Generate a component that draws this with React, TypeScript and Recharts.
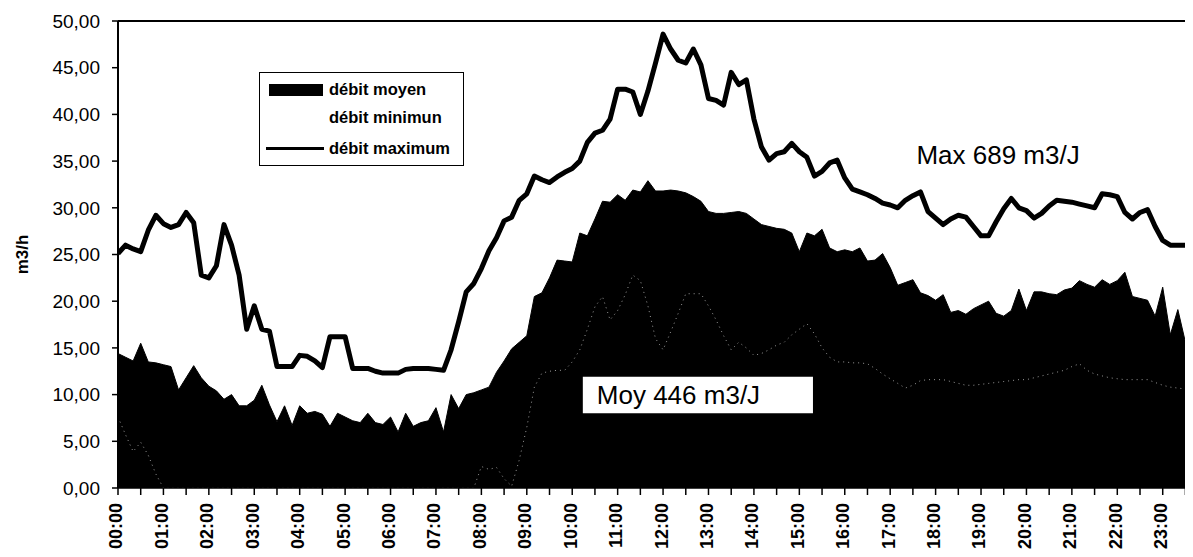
import React from "react";
import {
  ComposedChart,
  Area,
  Line,
  XAxis,
  YAxis,
  Legend,
  ReferenceLine,
  ReferenceArea,
} from "recharts";

// 10-minute samples from 00:00 to 23:40 (m3/h)
const maxFlow = [
  25.1, 26.0, 25.6, 25.3, 27.6, 29.2, 28.3, 27.9, 28.2, 29.5,
  28.4, 22.8, 22.5, 23.8, 28.2, 26.0, 22.8, 17.0, 19.5, 17.0,
  16.8, 13.0, 13.0, 13.0, 14.2, 14.1, 13.6, 12.9, 16.2, 16.2,
  16.2, 12.8, 12.8, 12.8, 12.5, 12.3, 12.3, 12.3, 12.7, 12.8,
  12.8, 12.8, 12.7, 12.6, 14.8, 17.8, 21.0, 21.9, 23.5, 25.4,
  26.8, 28.6, 29.0, 30.8, 31.5, 33.4, 33.0, 32.7, 33.3, 33.8,
  34.2, 35.0, 37.0, 38.0, 38.3, 39.5, 42.7, 42.7, 42.4, 40.0,
  42.5, 45.5, 48.6, 47.0, 45.8, 45.5, 47.0, 45.3, 41.7, 41.5,
  41.0, 44.5, 43.2, 43.7, 39.5, 36.5, 35.1, 35.8, 36.0, 36.9,
  36.0, 35.4, 33.4, 33.9, 34.8, 35.1, 33.2, 32.0, 31.7, 31.4,
  31.0, 30.5, 30.3, 30.0, 30.8, 31.3, 31.7, 29.6, 28.9, 28.2,
  28.8, 29.2, 29.0, 28.0, 27.0, 27.0, 28.5, 29.9, 31.0, 30.0,
  29.7, 28.9, 29.4, 30.2, 30.8, 30.7, 30.6, 30.4, 30.2, 30.0,
  31.5, 31.4, 31.2, 29.5, 28.8, 29.5, 29.8, 28.0, 26.5, 26.0,
  26.0, 26.0, 26.0,
];

const meanFlow = [
  14.4, 14.0, 13.6, 15.5, 13.5, 13.4, 13.2, 13.0, 10.5, 11.8,
  13.1, 11.8, 10.9, 10.4, 9.5, 10.0, 8.8, 8.8, 9.4, 11.0,
  8.9, 7.1, 8.8, 6.7, 8.8, 8.0, 8.2, 7.9, 6.6, 8.0,
  7.6, 7.2, 7.0, 8.0, 7.0, 6.8, 7.6, 6.0, 8.0, 6.6,
  7.0, 7.2, 8.6, 6.0, 10.0, 8.5, 10.0, 10.2, 10.5, 10.8,
  12.4, 13.6, 14.9, 15.6, 16.3, 20.5, 20.9, 22.5, 24.4, 24.3,
  24.2, 27.3, 27.0, 28.8, 30.7, 30.6, 31.4, 30.8, 31.9, 31.7,
  32.9, 31.8, 31.8, 31.9, 31.8, 31.6, 31.2, 30.7, 29.6, 29.4,
  29.4, 29.5, 29.6, 29.4, 28.8, 28.2, 28.0, 27.8, 27.7, 27.3,
  25.3, 27.3, 27.0, 27.7, 25.7, 25.3, 25.5, 25.3, 25.7, 24.3,
  24.4, 25.1, 23.6, 21.7, 22.0, 22.3, 20.9, 20.6, 20.1, 20.7,
  18.8, 19.0, 18.6, 19.2, 19.6, 20.0, 18.7, 18.4, 19.0, 21.3,
  19.0, 21.0, 21.0, 20.8, 20.7, 21.2, 21.4, 22.2, 21.8, 21.5,
  22.3, 21.8, 22.2, 23.1, 20.5, 20.3, 20.1, 18.4, 21.5, 16.4,
  19.1, 15.6, 16.6,
];

const minFlow = [
  7.6, 5.7, 3.9, 4.9, 3.5, 1.5, 0, 0, 0, 0,
  0, 0, 0, 0, 0, 0, 0, 0, 0, 0,
  0, 0, 0, 0, 0, 0, 0, 0, 0, 0,
  0, 0, 0, 0, 0, 0, 0, 0, 0, 0,
  0, 0, 0, 0, 0, 0, 0, 0, 2.3, 2.0,
  2.2, 1.0, 0.2, 3.0, 6.5, 10.8, 12.3, 12.5, 12.6, 12.6,
  13.5, 14.8, 17.0, 19.4, 20.5, 18.0, 19.0, 20.7, 22.8, 22.2,
  19.5, 16.0, 14.8, 16.7, 18.7, 20.8, 20.8, 20.8, 19.5, 18.0,
  16.3, 14.8, 15.6, 15.0, 14.2, 14.4, 14.8, 15.3, 15.6, 16.4,
  17.0, 17.6, 16.5, 15.0, 14.0, 13.5, 13.5, 13.4, 13.4, 13.3,
  12.8, 12.2, 11.7, 11.2, 10.7, 11.0, 11.5, 11.6, 11.6, 11.6,
  11.4, 11.2, 11.0, 11.0, 11.1, 11.2, 11.3, 11.4, 11.5, 11.6,
  11.6, 11.8, 12.0, 12.2, 12.4, 12.6, 13.0, 13.3, 12.6, 12.2,
  12.0, 11.8, 11.7, 11.6, 11.6, 11.6, 11.6, 11.3, 11.0, 10.8,
  10.7, 10.6, 10.5,
];

const hourLabels = [
  "00:00", "01:00", "02:00", "03:00", "04:00", "05:00", "06:00", "07:00",
  "08:00", "09:00", "10:00", "11:00", "12:00", "13:00", "14:00", "15:00",
  "16:00", "17:00", "18:00", "19:00", "20:00", "21:00", "22:00", "23:00",
];

const yTicks = [0, 5, 10, 15, 20, 25, 30, 35, 40, 45, 50];

const seriesNames = ["débit moyen", "débit minimun", "débit maximum"];

const STEP_MIN = 10;
const data = meanFlow.map((v, i) => ({
  t: i * STEP_MIN,
  moyen: v,
  minimun: minFlow[i],
  maximum: maxFlow[i],
}));

const xTicks = hourLabels.flatMap((_, h) => [h * 60, h * 60 + 30]);

const FONT = "'Liberation Sans', Arial, sans-serif";

const XTick = (props: any) => {
  const { x, y, payload } = props;
  const v = payload.value as number;
  if (v % 60 !== 0) return null;
  const label = hourLabels[v / 60];
  return (
    <text
      x={x - 2}
      y={y}
      transform={`rotate(-90, ${x - 2}, ${y})`}
      textAnchor="end"
      dy="0.36em"
      fontSize={18}
      fontWeight="bold"
      fill="#000"
      fontFamily={FONT}
    >
      {label}
    </text>
  );
};

const YLabel = (props: any) => {
  const vb = props.viewBox || { x: 0, y: 13, width: 110, height: 467 };
  const cx = vb.x + 14;
  const cy = vb.y + vb.height / 2;
  return (
    <text
      x={cx}
      y={cy}
      transform={`rotate(-90, ${cx}, ${cy})`}
      textAnchor="middle"
      dy="0.36em"
      fontSize={17}
      fontWeight="bold"
      fill="#000"
      fontFamily={FONT}
    >
      m3/h
    </text>
  );
};

const LegendBox = () => {
  const textStyle: React.CSSProperties = {
    position: "absolute",
    left: 69,
    fontSize: 16.5,
    fontWeight: "bold",
    lineHeight: "17px",
    color: "#000",
    whiteSpace: "nowrap",
  };
  return (
    <div
      style={{
        position: "relative",
        width: 203,
        height: 92,
        border: "1px solid #000",
        background: "#fff",
        fontFamily: FONT,
      }}
    >
      <div style={{ position: "absolute", left: 9, top: 11, width: 54, height: 12, background: "#000" }} />
      <div style={{ ...textStyle, top: 8 }}>{seriesNames[0]}</div>
      <div style={{ position: "absolute", left: 9, top: 44, width: 54, height: 1, background: "#fff" }} />
      <div style={{ ...textStyle, top: 36 }}>{seriesNames[1]}</div>
      <div style={{ position: "absolute", left: 6, top: 74, width: 58, height: 3, background: "#000" }} />
      <div style={{ ...textStyle, top: 67 }}>{seriesNames[2]}</div>
    </div>
  );
};

export default function App() {
  return (
    <div style={{ width: 1185, height: 549, fontFamily: FONT, background: "#fff" }}>
      <ComposedChart
        width={1185}
        height={549}
        data={data}
        margin={{ top: 13, right: 0, bottom: 0, left: 0 }}
      >
        <XAxis
          dataKey="t"
          type="number"
          domain={[0, 1420]}
          ticks={xTicks}
          interval={0}
          tick={<XTick />}
          tickSize={7}
          tickMargin={8}
          height={69}
          axisLine={{ stroke: "#000", strokeWidth: 1.5 }}
          tickLine={{ stroke: "#000", strokeWidth: 1.5 }}
          allowDataOverflow
        />
        <YAxis
          type="number"
          domain={[0, 50]}
          ticks={yTicks}
          interval={0}
          width={110}
          tickSize={6}
          tickMargin={12}
          tickFormatter={(v: number) => v.toFixed(2).replace(".", ",")}
          tick={{ fill: "#000", fontSize: 19, fontFamily: FONT }}
          axisLine={{ stroke: "#000", strokeWidth: 2 }}
          tickLine={{ stroke: "#000", strokeWidth: 1.5 }}
          label={<YLabel />}
        />
        <Legend
          verticalAlign="middle"
          align="center"
          layout="horizontal"
          content={<LegendBox />}
          wrapperStyle={{ left: 251, top: 64, width: 205, height: 94 }}
        />
        <ReferenceLine y={50} stroke="#000" strokeWidth={2} />
        <Area
          type="linear"
          dataKey="moyen"
          name={seriesNames[0]}
          stroke="#000"
          strokeWidth={1}
          fill="#000"
          fillOpacity={1}
          isAnimationActive={false}
          dot={false}
          activeDot={false}
        />
        <Line
          type="linear"
          dataKey="minimun"
          name={seriesNames[1]}
          stroke="#fff"
          strokeWidth={0.8}
          strokeOpacity={0.75}
          strokeDasharray="1 4"
          dot={false}
          activeDot={false}
          isAnimationActive={false}
        />
        <Line
          type="linear"
          dataKey="maximum"
          name={seriesNames[2]}
          stroke="#000"
          strokeWidth={5}
          strokeLinejoin="round"
          dot={false}
          activeDot={false}
          isAnimationActive={false}
        />
        <ReferenceArea
          x1={614}
          x2={918}
          y1={8.0}
          y2={11.9}
          fill="#fff"
          fillOpacity={1}
          stroke="none"
          label={{ value: "Moy 446 m3/J", position: "insideLeft", offset: 14, fontSize: 26, fill: "#000", fontFamily: FONT }}
        />
        <ReferenceArea
          x1={1060}
          x2={1265}
          y1={34.5}
          y2={36.8}
          fillOpacity={0}
          stroke="none"
          label={{ value: "Max 689 m3/J", position: "center", fontSize: 26, fill: "#000", fontFamily: FONT }}
        />
      </ComposedChart>
    </div>
  );
}
